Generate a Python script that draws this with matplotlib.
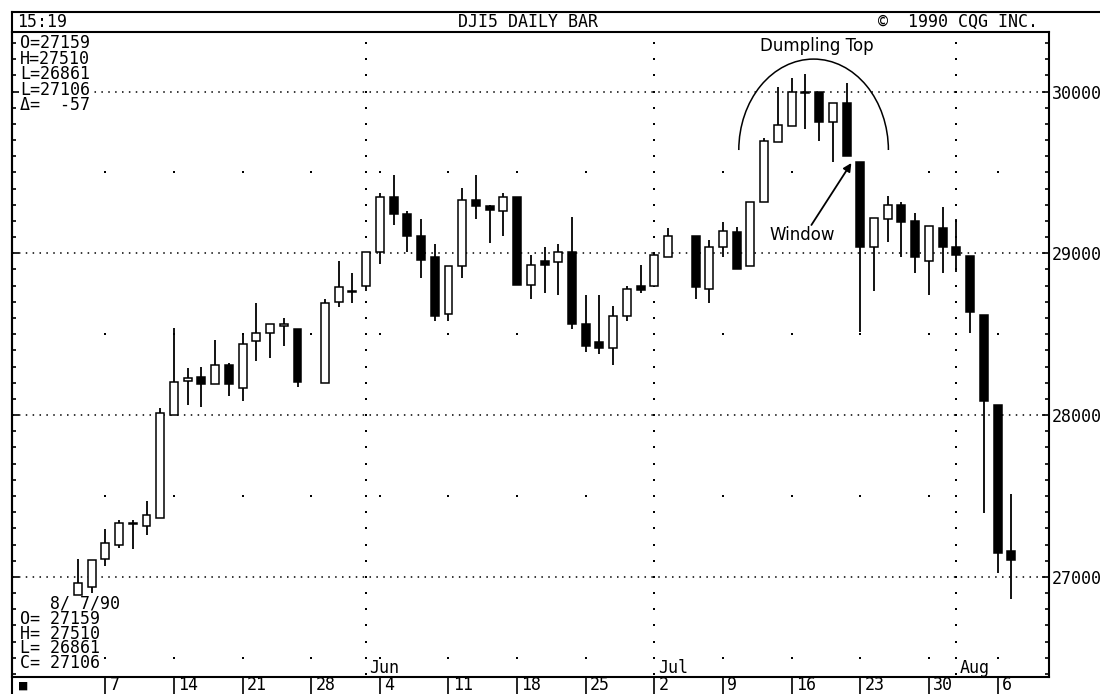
import numpy as np
import pandas as pd
import matplotlib
matplotlib.use('Agg')
import matplotlib.pyplot as plt
import matplotlib.transforms as mtransforms
from matplotlib.lines import Line2D
from matplotlib.patches import Arc
from matplotlib.ticker import MultipleLocator

plt.rcParams['font.family'] = ['DejaVu Sans Mono']

# trading days, May 3 - Aug 7 1990 (holidays leave a gap on the chart)
start = '1990-05-03'
end = '1990-08-07'
holidays = ['1990-05-28', '1990-07-04']

opens = [26890, 26940, 27110, 27200, 27325, 27315, 27365, 28000, 28210, 28235,
         28195, 28310, 28165, 28455, 28510, 28550, 28530, 28200, 28700, 28770,
         28795, 29005, 29350, 29240, 29110, 28975, 28625, 28920, 29330, 29290,
         29260, 29350, 28805, 28950, 28945, 29010, 28565, 28450, 28415, 28615,
         28800, 28795, 28980, 29105, 28780, 29040, 29130, 28920, 29315, 29690,
         29785, 29990, 29995, 29810, 29930, 29565, 29040, 29210, 29300, 29200,
         28955, 29155, 29040, 28985, 28620, 28065, 27159]
highs = [27110, 27105, 27295, 27350, 27350, 27470, 28045, 28540, 28290, 28300,
         28465, 28320, 28505, 28695, 28565, 28600, 28530, 28720, 28955, 28880,
         29010, 29370, 29485, 29260, 29210, 29060, 28920, 29405, 29485, 29300,
         29375, 29350, 28990, 29040, 29055, 29225, 28745, 28745, 28675, 28800,
         28930, 29010, 29155, 29105, 29085, 29195, 29160, 29320, 29710, 30025,
         30085, 30110, 30000, 29930, 30055, 29565, 29220, 29355, 29315, 29250,
         29170, 29285, 29210, 28985, 28620, 28065, 27510]
lows = [26890, 26900, 27065, 27180, 27170, 27260, 27365, 28000, 28065, 28050,
        28195, 28115, 28090, 28335, 28350, 28425, 28175, 28200, 28670, 28690,
        28770, 28935, 29175, 29005, 28850, 28580, 28580, 28850, 29210, 29065,
        29110, 28805, 28720, 28755, 28745, 28530, 28390, 28375, 28310, 28580,
        28755, 28795, 28980, 28715, 28695, 28980, 28905, 28920, 29315, 29690,
        29785, 29770, 29695, 29565, 29600, 28515, 28765, 29070, 28980, 28880,
        28745, 28880, 28885, 28510, 27395, 27025, 26861]
closes = [26965, 27105, 27210, 27335, 27335, 27380, 28015, 28205, 28230, 28195,
          28310, 28195, 28440, 28510, 28560, 28560, 28205, 28695, 28790, 28760,
          29005, 29345, 29240, 29105, 28960, 28615, 28920, 29330, 29295, 29270,
          29350, 28805, 28925, 28925, 29010, 28565, 28430, 28415, 28615, 28780,
          28775, 28990, 29105, 28790, 29040, 29135, 28905, 29320, 29695, 29795,
          29995, 30000, 29810, 29930, 29600, 29040, 29220, 29300, 29195, 28975,
          29170, 29040, 28990, 28640, 28090, 27150, 27106]

month_starts = ['1990-06-01', '1990-07-02', '1990-08-01']
month_names = ['Jun', 'Jul', 'Aug']
grid_levels = [27000, 28000, 29000, 30000]
half_levels = [26500, 27500, 28500, 29500]

top_info = ['O=27159', 'H=27510', 'L=26861', 'L=27106', '\u0394=  -57']
bottom_info = ['   8/ 7/90', 'O= 27159', 'H= 27510', 'L= 26861', 'C= 27106']

# x positions = weekday count since start, so holidays stay empty
days = pd.bdate_range(start, end)
days = days[~days.isin(pd.to_datetime(holidays))]
d0 = np.datetime64(start)
x = np.busday_count(d0, days.values.astype('datetime64[D]'))
mondays = pd.date_range('1990-05-07', end, freq='W-MON')
mon_x = np.busday_count(d0, mondays.values.astype('datetime64[D]'))
month_x = np.busday_count(d0, np.array(month_starts, dtype='datetime64[D]'))

W, H = 1100, 694
def fx(px):
    return px / W
def fy(py):
    return 1 - py / H

fig = plt.figure(figsize=(11, 6.94), dpi=100)
ax = fig.add_axes([fx(12), fy(677), fx(1049) - fx(12), fy(31.5) - fy(677)])
xmin, xmax = -4.8, 70.75
ax.set_xlim(xmin, xmax)
ax.set_ylim(26381, 30371)

# dotted grid
for lev in grid_levels:
    ax.axhline(lev, color='black', lw=1.1, dashes=(1, 3.5), zorder=1)
mx, my = np.meshgrid(mon_x, half_levels)
ax.scatter(mx.ravel(), my.ravel(), s=2.5, color='black', marker='s', lw=0, zorder=1)
steps = np.arange(26400, 30400, 100)
for m in month_x:
    ax.scatter(np.full(len(steps), m), steps, s=2.5, color='black', marker='s', lw=0, zorder=1)

# candles
o, h, l, c = map(np.array, (opens, highs, lows, closes))
up = c >= o
ax.vlines(x, l, h, color='black', lw=1.3, zorder=2)
body_h = np.maximum(np.abs(c - o), 10)
body_bot = (o + c) / 2 - body_h / 2
ax.bar(x, body_h, bottom=body_bot, width=0.58,
       color=np.where(up, 'white', 'black'), edgecolor='black', linewidth=1.1, zorder=3)

# axes / ticks
for sp in ax.spines.values():
    sp.set_linewidth(1.5)
ax.yaxis.set_major_locator(MultipleLocator(1000))
ax.yaxis.set_minor_locator(MultipleLocator(100))
ax.tick_params(axis='y', which='both', direction='in', left=True, right=True,
               labelleft=False, labelright=True, width=1.2)
ax.tick_params(axis='y', which='major', length=5, pad=2, labelsize=12)
ax.tick_params(axis='y', which='minor', length=3)
ax.set_xticks(mon_x)
ax.tick_params(axis='x', which='major', direction='out', length=12.5, width=1.2,
               labelbottom=False)

trans = mtransforms.blended_transform_factory(ax.transData, fig.transFigure)
for xm, d in zip(mon_x, mondays):
    ax.text(xm + 0.3, fy(693.5), str(d.day), transform=trans, ha='left', va='bottom',
            fontsize=12, clip_on=False)
trans_ax = mtransforms.blended_transform_factory(ax.transData, ax.transAxes)
for xm, name in zip(month_x, month_names):
    ax.text(xm + 0.25, 0.006, name, transform=trans_ax, ha='left', va='baseline',
            fontsize=12)

# header bar
fig.add_artist(Line2D([fx(12), 1], [fy(12), fy(12)], color='black', lw=1.5))
fig.add_artist(Line2D([fx(12), fx(12)], [fy(12), 0], color='black', lw=1.5))
fig.text(fx(17), fy(27), '15:19', ha='left', va='baseline', fontsize=12)
fig.text(fx(598), fy(27), 'DJI5 DAILY BAR', ha='right', va='baseline', fontsize=12)
fig.text(fx(1038), fy(27), '\u00a9  1990 CQG INC.', ha='right', va='baseline', fontsize=12)

# OHLC read-outs
box = dict(facecolor='white', edgecolor='none', pad=0.5)
fig.text(fx(20), fy(34.5), '\n'.join(top_info), ha='left', va='top', fontsize=12,
         linespacing=0.81, bbox=box)
fig.text(fx(20), fy(595), '\n'.join(bottom_info), ha='left', va='top', fontsize=12,
         linespacing=0.77)
fig.text(fx(19), fy(690), '\u25a0', ha='left', va='baseline', fontsize=10)

# annotations
ax.add_patch(Arc((53.6, 29638), 10.9, 1125, theta1=5, theta2=177, color='black', lw=1.1))
ax.text(53.8, 30284, 'Dumpling Top', family='DejaVu Sans', fontsize=12,
        ha='center', va='center')
ax.text(52.8, 29113, 'Window', family='DejaVu Sans', fontsize=12,
        ha='center', va='center')
ax.annotate('', xy=(56.35, 29558), xytext=(53.44, 29175),
            arrowprops=dict(arrowstyle='-|>', color='black', lw=1.3,
                            mutation_scale=12, shrinkA=0, shrinkB=0))

fig.savefig('out.png', dpi=100)
